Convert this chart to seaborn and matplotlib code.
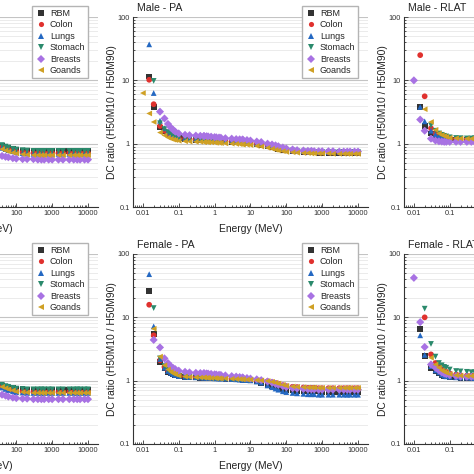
import numpy as np
import pandas as pd
import matplotlib
matplotlib.use("Agg")
import matplotlib.pyplot as plt
import seaborn as sns
from matplotlib.ticker import LogLocator, FuncFormatter, NullFormatter

nan = np.nan

# ICRP photon energies (MeV)
ENERGY = [0.01, 0.015, 0.02, 0.03, 0.04, 0.05, 0.06, 0.07, 0.08, 0.1,
          0.15, 0.2, 0.3, 0.4, 0.5, 0.511, 0.6, 0.662, 0.8, 1,
          1.117, 1.33, 1.5, 2, 3, 4, 5, 6, 6.129, 8,
          10, 15, 20, 30, 40, 50, 60, 80, 100, 150,
          200, 300, 400, 500, 600, 800, 1000, 1500, 2000, 3000,
          4000, 5000, 6000, 8000, 10000]
ENERGY_HIGH = ENERGY[34:]   # part of the left panels inside the crop
ENERGY_LOW = ENERGY[:16]    # part of the right panels inside the crop

ORGANS = ["RBM", "Colon", "Lungs", "Stomach", "Breasts", "Goands"]
COLORS = ["#333333", "#e0312e", "#2468c2", "#2b8a6c", "#a872e3", "#cfa024"]
MARKERS = ["s", "o", "^", "v", "D", "<"]

# left column (only energies >= 40 MeV visible)
MALE_LEFT = {
    "RBM":     [0.93, 0.89, 0.86, 0.82, 0.80, 0.78, 0.77, 0.76, 0.76, 0.76, 0.76, 0.76, 0.76, 0.76, 0.76, 0.76, 0.76, 0.76, 0.76, 0.76, 0.76],
    "Colon":   [0.88, 0.84, 0.81, 0.77, 0.75, 0.73, 0.72, 0.71, 0.71, 0.71, 0.71, 0.71, 0.71, 0.71, 0.71, 0.71, 0.71, 0.71, 0.71, 0.71, 0.71],
    "Lungs":   [0.86, 0.82, 0.79, 0.76, 0.73, 0.71, 0.70, 0.69, 0.69, 0.69, 0.69, 0.69, 0.69, 0.69, 0.69, 0.69, 0.69, 0.69, 0.69, 0.69, 0.69],
    "Stomach": [0.95, 0.90, 0.87, 0.83, 0.81, 0.79, 0.78, 0.77, 0.77, 0.77, 0.77, 0.77, 0.77, 0.77, 0.77, 0.77, 0.77, 0.77, 0.77, 0.77, 0.77],
    "Breasts": [0.64, 0.62, 0.61, 0.59, 0.58, 0.57, 0.57, 0.57, 0.56, 0.56, 0.56, 0.56, 0.56, 0.56, 0.56, 0.56, 0.56, 0.56, 0.56, 0.56, 0.56],
    "Goands":  [0.82, 0.78, 0.75, 0.72, 0.70, 0.68, 0.67, 0.66, 0.66, 0.66, 0.66, 0.66, 0.66, 0.66, 0.66, 0.66, 0.66, 0.66, 0.66, 0.66, 0.66],
}
FEMALE_LEFT = {
    "RBM":     [0.84, 0.80, 0.78, 0.76, 0.74, 0.73, 0.72, 0.72, 0.72, 0.72, 0.72, 0.72, 0.72, 0.72, 0.72, 0.72, 0.72, 0.72, 0.72, 0.72, 0.72],
    "Colon":   [0.80, 0.76, 0.73, 0.70, 0.68, 0.67, 0.66, 0.66, 0.66, 0.66, 0.66, 0.66, 0.66, 0.66, 0.66, 0.66, 0.66, 0.66, 0.66, 0.66, 0.66],
    "Lungs":   [0.78, 0.74, 0.71, 0.68, 0.66, 0.65, 0.64, 0.64, 0.64, 0.64, 0.64, 0.64, 0.64, 0.64, 0.64, 0.64, 0.64, 0.64, 0.64, 0.64, 0.64],
    "Stomach": [0.86, 0.82, 0.80, 0.77, 0.75, 0.74, 0.73, 0.73, 0.73, 0.73, 0.73, 0.73, 0.73, 0.73, 0.73, 0.73, 0.73, 0.73, 0.73, 0.73, 0.73],
    "Breasts": [0.60, 0.58, 0.56, 0.54, 0.53, 0.52, 0.52, 0.51, 0.51, 0.51, 0.51, 0.51, 0.51, 0.51, 0.51, 0.51, 0.51, 0.51, 0.51, 0.51, 0.51],
    "Goands":  [0.80, 0.76, 0.73, 0.70, 0.67, 0.66, 0.65, 0.64, 0.64, 0.64, 0.64, 0.64, 0.64, 0.64, 0.64, 0.64, 0.64, 0.64, 0.64, 0.64, 0.64],
}

# Male - PA
MALE_PA = {
    "RBM":     [nan, 11.5, 3.8, 1.8, 1.55, 1.42, 1.35, 1.3, 1.27, 1.22, 1.18, 1.16, 1.15, 1.14, 1.13, 1.13, 1.13, 1.12, 1.12, 1.11,
                1.1, 1.1, 1.09, 1.08, 1.07, 1.06, 1.05, 1.04, 1.04, 1.03, 1.02, 0.98, 0.96, 0.92, 0.89, 0.86, 0.83, 0.8, 0.78, 0.76,
                0.75, 0.74, 0.73, 0.73, 0.73, 0.72, 0.72, 0.72, 0.72, 0.72, 0.72, 0.72, 0.72, 0.72, 0.72],
    "Colon":   [nan, 10.2, 4.2, 1.9, 1.6, 1.46, 1.38, 1.32, 1.29, 1.24, 1.2, 1.18, 1.16, 1.15, 1.15, 1.15, 1.14, 1.14, 1.13, 1.12,
                1.12, 1.11, 1.1, 1.09, 1.08, 1.07, 1.06, 1.05, 1.05, 1.04, 1.03, 0.99, 0.97, 0.93, 0.9, 0.87, 0.84, 0.81, 0.79, 0.77,
                0.76, 0.75, 0.74, 0.74, 0.74, 0.73, 0.73, 0.73, 0.73, 0.73, 0.73, 0.73, 0.73, 0.73, 0.73],
    "Lungs":   [nan, 37, 6.3, 2.3, 1.75, 1.55, 1.45, 1.38, 1.33, 1.27, 1.22, 1.2, 1.18, 1.17, 1.16, 1.16, 1.16, 1.15, 1.14, 1.13,
                1.13, 1.12, 1.11, 1.1, 1.09, 1.08, 1.07, 1.06, 1.06, 1.05, 1.04, 1.0, 0.98, 0.94, 0.91, 0.88, 0.85, 0.82, 0.8, 0.78,
                0.77, 0.76, 0.75, 0.75, 0.75, 0.74, 0.74, 0.74, 0.74, 0.74, 0.74, 0.74, 0.74, 0.74, 0.74],
    "Stomach": [nan, nan, 9.8, 2.1, 1.7, 1.52, 1.42, 1.36, 1.32, 1.26, 1.21, 1.19, 1.17, 1.16, 1.16, 1.16, 1.15, 1.15, 1.14, 1.13,
                1.12, 1.12, 1.11, 1.1, 1.09, 1.08, 1.07, 1.06, 1.06, 1.05, 1.04, 1.0, 0.98, 0.94, 0.91, 0.88, 0.85, 0.82, 0.8, 0.78,
                0.76, 0.75, 0.75, 0.74, 0.74, 0.74, 0.74, 0.74, 0.74, 0.74, 0.74, 0.74, 0.74, 0.74, 0.74],
    "Breasts": [nan, nan, nan, 3.2, 2.5, 2.05, 1.8, 1.65, 1.55, 1.45, 1.38, 1.36, 1.34, 1.33, 1.32, 1.32, 1.31, 1.3, 1.29, 1.27,
                1.26, 1.25, 1.24, 1.22, 1.2, 1.18, 1.17, 1.16, 1.16, 1.14, 1.12, 1.08, 1.06, 1.0, 0.97, 0.94, 0.91, 0.87, 0.84, 0.81,
                0.79, 0.78, 0.77, 0.77, 0.76, 0.76, 0.76, 0.76, 0.76, 0.75, 0.75, 0.75, 0.75, 0.75, 0.75],
    "Goands":  [6.3, 3.0, 2.2, 1.5, 1.35, 1.25, 1.2, 1.16, 1.14, 1.11, 1.09, 1.08, 1.07, 1.07, 1.06, 1.06, 1.06, 1.05, 1.05, 1.04,
                1.03, 1.03, 1.02, 1.01, 1.0, 0.99, 0.98, 0.97, 0.97, 0.96, 0.95, 0.92, 0.9, 0.86, 0.83, 0.8, 0.78, 0.76, 0.74, 0.73,
                0.72, 0.71, 0.71, 0.7, 0.7, 0.7, 0.7, 0.7, 0.69, 0.69, 0.69, 0.69, 0.69, 0.69, 0.69],
}

# Female - PA
FEMALE_PA = {
    "RBM":     [nan, 26, 5.5, 1.95, 1.55, 1.38, 1.3, 1.25, 1.22, 1.17, 1.14, 1.13, 1.12, 1.11, 1.11, 1.11, 1.1, 1.1, 1.1, 1.09,
                1.09, 1.08, 1.08, 1.07, 1.06, 1.05, 1.04, 1.03, 1.03, 1.02, 1.01, 0.97, 0.9, 0.86, 0.82, 0.79, 0.77, 0.74, 0.72, 0.7,
                0.69, 0.68, 0.68, 0.68, 0.68, 0.68, 0.67, 0.67, 0.67, 0.67, 0.67, 0.67, 0.67, 0.67, 0.67],
    "Colon":   [nan, 15.8, 5.2, 2.1, 1.65, 1.45, 1.36, 1.3, 1.26, 1.2, 1.17, 1.15, 1.14, 1.13, 1.13, 1.13, 1.12, 1.12, 1.11, 1.1,
                1.1, 1.09, 1.09, 1.08, 1.07, 1.06, 1.05, 1.05, 1.05, 1.04, 1.03, 1.01, 1.0, 0.98, 0.95, 0.92, 0.89, 0.85, 0.82, 0.8,
                0.79, 0.78, 0.77, 0.77, 0.77, 0.76, 0.76, 0.76, 0.76, 0.76, 0.76, 0.76, 0.76, 0.76, 0.76],
    "Lungs":   [nan, 48, 7.2, 2.2, 1.6, 1.42, 1.33, 1.27, 1.23, 1.18, 1.15, 1.14, 1.13, 1.12, 1.12, 1.12, 1.11, 1.11, 1.1, 1.09,
                1.09, 1.08, 1.08, 1.07, 1.06, 1.05, 1.04, 1.03, 1.03, 1.02, 1.01, 0.97, 0.93, 0.84, 0.79, 0.75, 0.72, 0.68, 0.66, 0.64,
                0.63, 0.62, 0.61, 0.61, 0.61, 0.6, 0.6, 0.6, 0.6, 0.6, 0.6, 0.6, 0.6, 0.6, 0.6],
    "Stomach": [nan, nan, 14, 2.25, 1.7, 1.48, 1.38, 1.31, 1.27, 1.21, 1.17, 1.15, 1.14, 1.13, 1.13, 1.13, 1.12, 1.12, 1.11, 1.1,
                1.1, 1.09, 1.09, 1.08, 1.07, 1.06, 1.05, 1.04, 1.04, 1.03, 1.02, 0.99, 0.97, 0.92, 0.88, 0.85, 0.82, 0.78, 0.75, 0.73,
                0.72, 0.71, 0.7, 0.7, 0.7, 0.7, 0.7, 0.7, 0.7, 0.7, 0.7, 0.7, 0.7, 0.7, 0.7],
    "Breasts": [nan, nan, 4.4, 3.35, 2.25, 1.9, 1.7, 1.58, 1.52, 1.44, 1.38, 1.35, 1.33, 1.32, 1.31, 1.31, 1.3, 1.29, 1.28, 1.26,
                1.25, 1.24, 1.23, 1.21, 1.18, 1.16, 1.14, 1.12, 1.12, 1.1, 1.08, 1.05, 1.02, 0.97, 0.93, 0.89, 0.86, 0.82, 0.79, 0.76,
                0.75, 0.74, 0.73, 0.73, 0.73, 0.72, 0.72, 0.72, 0.72, 0.72, 0.72, 0.72, 0.72, 0.72, 0.72],
    "Goands":  [nan, nan, 6.6, 2.4, 1.75, 1.5, 1.38, 1.3, 1.26, 1.2, 1.16, 1.14, 1.13, 1.12, 1.12, 1.12, 1.11, 1.11, 1.1, 1.1,
                1.09, 1.09, 1.08, 1.08, 1.07, 1.06, 1.06, 1.05, 1.05, 1.04, 1.04, 1.02, 1.01, 0.99, 0.96, 0.93, 0.9, 0.86, 0.83, 0.81,
                0.8, 0.79, 0.78, 0.78, 0.78, 0.77, 0.77, 0.77, 0.77, 0.77, 0.77, 0.77, 0.77, 0.77, 0.77],
}

# right column (only energies <= 0.511 MeV visible)
MALE_RLAT = {
    "RBM":     [nan, 3.8, 1.9, 1.45, 1.33, 1.27, 1.23, 1.2, 1.18, 1.16, 1.15, 1.15, 1.15, 1.15, 1.15, 1.15],
    "Colon":   [nan, 25, 5.6, 1.75, 1.45, 1.35, 1.3, 1.26, 1.24, 1.21, 1.19, 1.18, 1.18, 1.18, 1.18, 1.18],
    "Lungs":   [nan, 3.8, 2.25, 1.6, 1.4, 1.32, 1.27, 1.23, 1.2, 1.17, 1.16, 1.16, 1.16, 1.16, 1.16, 1.16],
    "Stomach": [nan, nan, nan, 1.95, 1.6, 1.45, 1.38, 1.33, 1.3, 1.26, 1.23, 1.22, 1.21, 1.21, 1.21, 1.21],
    "Breasts": [10, 2.4, 1.6, 1.2, 1.12, 1.09, 1.08, 1.07, 1.07, 1.07, 1.07, 1.07, 1.07, 1.07, 1.07, 1.07],
    "Goands":  [nan, nan, 3.5, 2.2, 1.65, 1.45, 1.37, 1.32, 1.28, 1.24, 1.22, 1.21, 1.2, 1.2, 1.2, 1.2],
}
FEMALE_RLAT = {
    "RBM":     [nan, 6.6, 2.45, 1.6, 1.4, 1.3, 1.22, 1.18, 1.16, 1.14, 1.12, 1.11, 1.11, 1.1, 1.1, 1.1],
    "Colon":   [nan, nan, 10, 2.6, 1.9, 1.65, 1.5, 1.42, 1.38, 1.3, 1.25, 1.22, 1.2, 1.2, 1.2, 1.2],
    "Lungs":   [nan, 5.2, 2.55, 1.7, 1.45, 1.35, 1.25, 1.2, 1.17, 1.15, 1.13, 1.12, 1.12, 1.11, 1.11, 1.11],
    "Stomach": [nan, nan, 13.7, 3.8, 2.4, 1.9, 1.75, 1.65, 1.6, 1.5, 1.42, 1.4, 1.38, 1.36, 1.35, 1.35],
    "Breasts": [42, 8.4, 3.4, 1.8, 1.6, 1.45, 1.35, 1.3, 1.27, 1.22, 1.18, 1.16, 1.15, 1.15, 1.15, 1.15],
    "Goands":  [nan, nan, nan, 2.3, 1.8, 1.6, 1.45, 1.38, 1.33, 1.27, 1.22, 1.2, 1.19, 1.19, 1.19, 1.19],
}

sns.set_style("ticks")
plt.rcParams["font.family"] = ["Liberation Sans", "DejaVu Sans"]

W = H = 474
AX_W, AX_H = 235, 190
COLS = [-137, 133, 404]
ROWS = [17, 254]


def to_long(energy, values):
    frames = [pd.DataFrame({"Energy": energy, "Ratio": values[o], "Organ": o}) for o in ORGANS]
    return pd.concat(frames, ignore_index=True).dropna()


# (data, energies, col, row, title, show ylabel, show legend)
panels = [
    (MALE_LEFT, ENERGY_HIGH, 0, 0, None, False, True),
    (MALE_PA, ENERGY, 1, 0, "Male - PA", True, True),
    (MALE_RLAT, ENERGY_LOW, 2, 0, "Male - RLAT", True, False),
    (FEMALE_LEFT, ENERGY_HIGH, 0, 1, None, False, True),
    (FEMALE_PA, ENERGY, 1, 1, "Female - PA", True, True),
    (FEMALE_RLAT, ENERGY_LOW, 2, 1, "Female - RLAT", True, False),
]

fig = plt.figure(figsize=(W / 100, H / 100), dpi=100)
fmt = FuncFormatter(lambda v, p: f"{v:g}")
axes = []

for values, energy, c, r, title, ylab, leg in panels:
    left, top = COLS[c], ROWS[r]
    ax = fig.add_axes([left / W, (H - top - AX_H) / H, AX_W / W, AX_H / H])
    axes.append(ax)
    df = to_long(energy, values)
    sns.scatterplot(data=df, x="Energy", y="Ratio", hue="Organ", style="Organ",
                    hue_order=ORGANS, style_order=ORGANS,
                    palette=dict(zip(ORGANS, COLORS)), markers=dict(zip(ORGANS, MARKERS)),
                    s=17, linewidth=0, ax=ax, legend=leg, zorder=3)
    ax.set_xscale("log")
    ax.set_yscale("log")
    ax.set_xlim(0.0053, 19000)
    ax.set_ylim(0.1, 100)
    ax.xaxis.set_major_locator(LogLocator(base=10, numticks=20))
    ax.xaxis.set_minor_locator(LogLocator(base=10, subs=np.arange(2, 10), numticks=20))
    ax.yaxis.set_major_locator(LogLocator(base=10, numticks=10))
    ax.yaxis.set_minor_locator(LogLocator(base=10, subs=np.arange(2, 10), numticks=10))
    ax.xaxis.set_major_formatter(fmt)
    ax.yaxis.set_major_formatter(fmt)
    ax.xaxis.set_minor_formatter(NullFormatter())
    ax.yaxis.set_minor_formatter(NullFormatter())
    ax.tick_params(which="both", direction="in", colors="#333333", labelsize=5.3, width=0.6)
    ax.tick_params(which="major", length=3, pad=2.5)
    ax.tick_params(which="minor", length=1.6)
    ax.yaxis.grid(True, which="major", color="#c4c4c4", lw=0.8)
    ax.yaxis.grid(True, which="minor", color="#e8e8e8", lw=0.6)
    ax.xaxis.grid(False)
    for side in ["top", "right"]:
        ax.spines[side].set_visible(False)
    for side in ["left", "bottom"]:
        ax.spines[side].set_color("#333333")
        ax.spines[side].set_linewidth(0.8)

    ax.set_xlabel("Energy (MeV)", fontsize=7.4, color="#222222")
    ax.xaxis.set_label_coords(0.5, -17 / AX_H)
    if ylab:
        ax.set_ylabel("DC ratio (H50M10 / H50M90)", fontsize=7.4, color="#222222")
        ax.yaxis.set_label_coords(-16 / AX_W, 0.5)
    else:
        ax.set_ylabel("")
    if title:
        ax.text(4 / AX_W, 1 + 6 / AX_H, title, transform=ax.transAxes,
                ha="left", va="baseline", fontsize=7.6, color="#222222")
    if leg:
        handles, labels = ax.get_legend_handles_labels()
        ax.legend(handles, labels, loc="upper right",
                  bbox_to_anchor=(1 - 5 / AX_W, 1 + 16 / AX_H),
                  fontsize=6.5, frameon=True, fancybox=False, framealpha=1,
                  edgecolor="#b4b4b4", labelspacing=0.28, handletextpad=0.4,
                  borderpad=0.35, handlelength=1.2, markerscale=0.9)

# the figure is a crop: tick labels that fall wholly outside it are not drawn
fig.canvas.draw()
renderer = fig.canvas.get_renderer()
for ax in axes:
    for lab in ax.get_xticklabels() + ax.get_yticklabels():
        bb = lab.get_window_extent(renderer)
        if bb.x1 <= 0 or bb.x0 >= W:
            lab.set_visible(False)

fig.savefig("out.png", dpi=100)
